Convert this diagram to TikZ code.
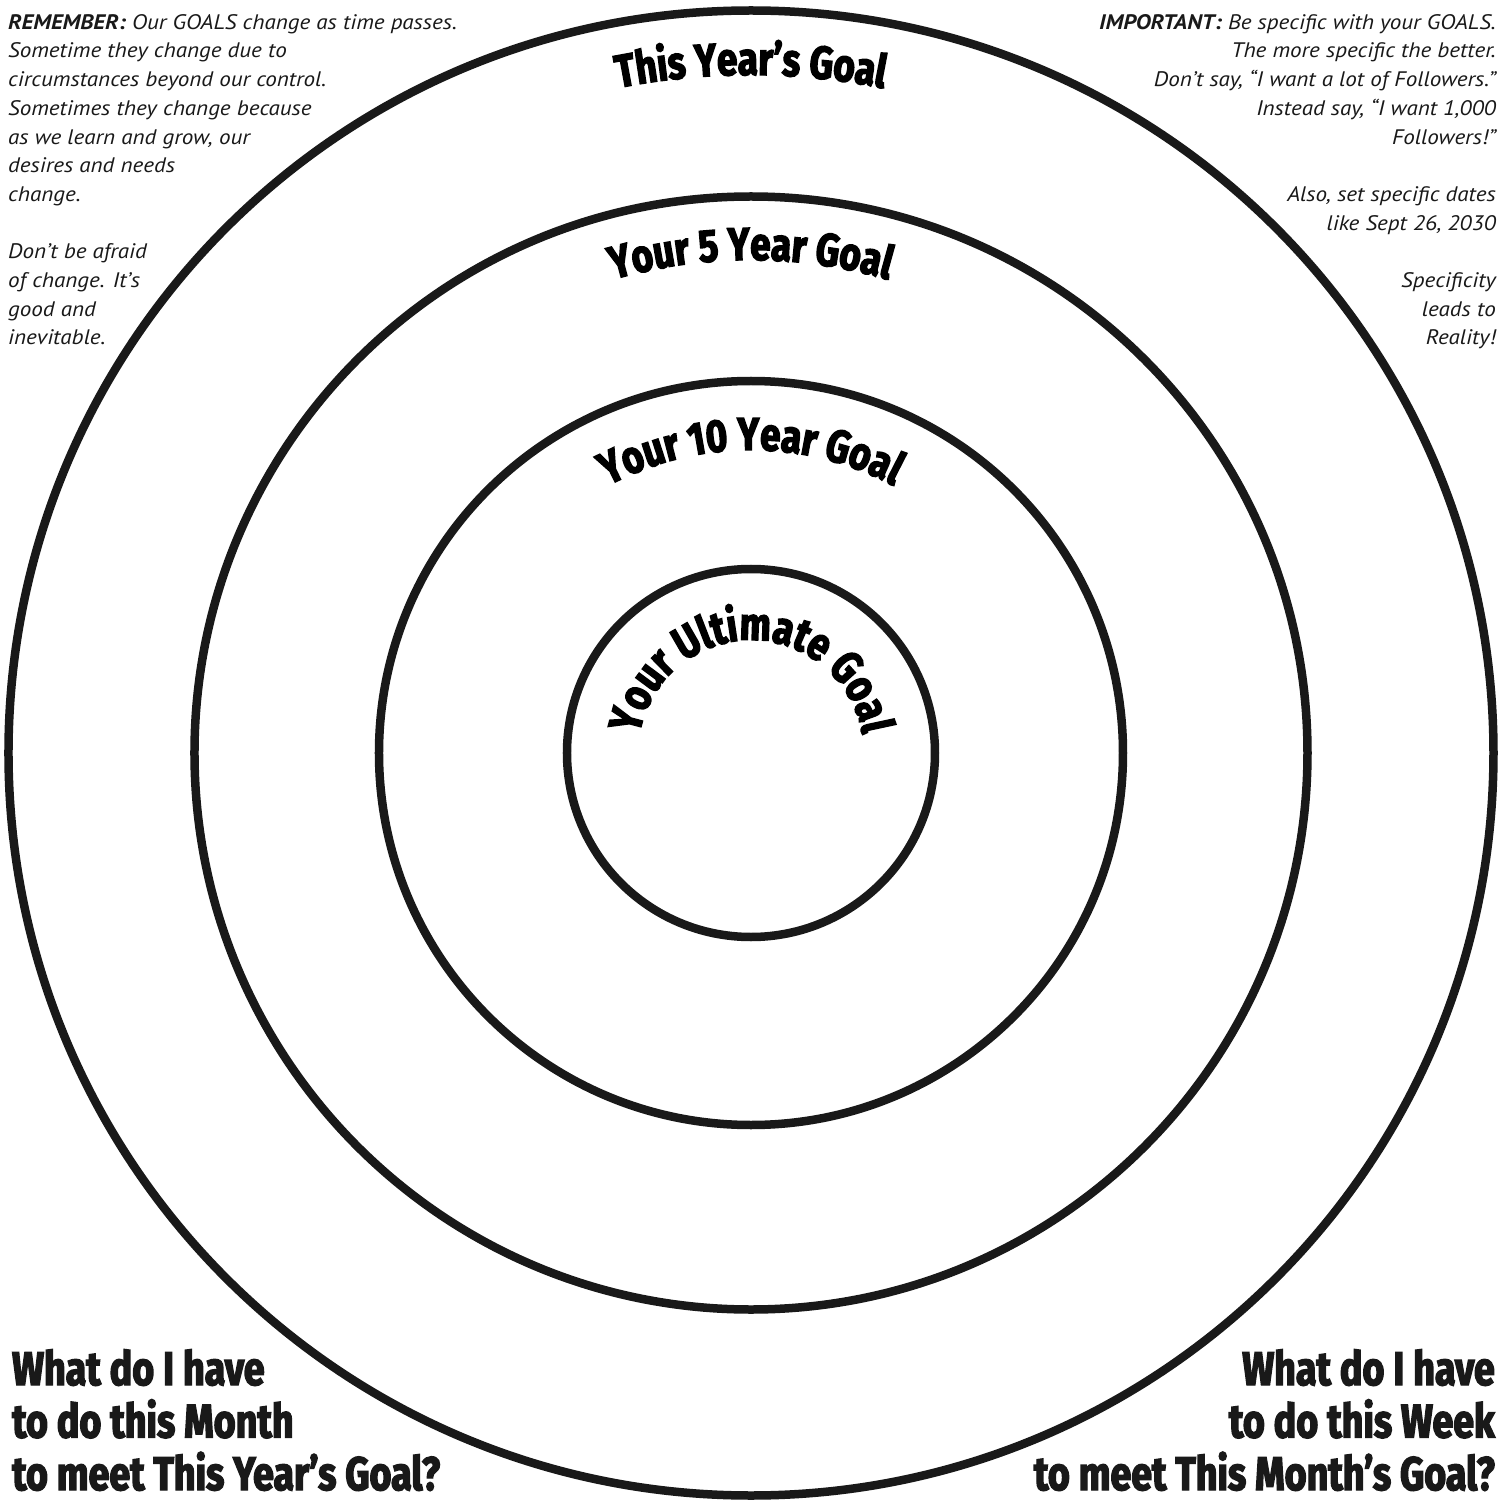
\documentclass[tikz,border=0pt]{standalone}
\usepackage{fontspec}
\usetikzlibrary{decorations.text}
\newfontfamily\notefont{PT Sans}[FakeStretch=1.1]
\newfontfamily\impactbase{Fira Sans}[FakeStretch=0.8, BoldFeatures={FakeBold=3}]
\newcommand{\impact}{\impactbase\bfseries}
\tikzset{
  ring/.style={draw=black!90, line width=8.5pt},
  note/.style={inner sep=0pt, font=\notefont\itshape\fontsize{21}{28.7}\selectfont, text=black!90},
  bigq/.style={inner sep=0pt, font=\impact\fontsize{47}{52.5}\selectfont, text=black!90},
}
\newcommand{\arcfont}{\impact\fontsize{46}{50}\selectfont}
\begin{document}
\begin{tikzpicture}[x=1pt,y=1pt]
\useasboundingbox (-751,-752) rectangle (753,753);
\fill[white] (-751,-752) rectangle (753,753);
\coordinate (c) at (0,0);
\draw[ring] (c) circle[radius=742.5];
\draw[ring] (c) circle[radius=556.5];
\draw[ring] (c) circle[radius=372];
\draw[ring] (c) circle[radius=184];
% arc titles
\path[decorate,decoration={text along path,text align=center,
  text={|\arcfont|This Year’s Goal}}]
  (c) ++(170:678) arc[start angle=170,end angle=10,radius=678];
\path[decorate,decoration={text along path,text align=center,
  text={|\arcfont|Your 5 Year Goal}}]
  (c) ++(170:493) arc[start angle=170,end angle=10,radius=493];
\path[decorate,decoration={text along path,text align=center,
  text={|\arcfont|Your 10 Year Goal}}]
  (c) ++(170:303) arc[start angle=170,end angle=10,radius=303];
\path[decorate,decoration={text along path,text align=center,
  text={|\arcfont|Your Ultimate Goal}}]
  (c) ++(200:113) arc[start angle=200,end angle=-20,radius=113];
% notes (base anchor = last line)
\node[note, anchor=base west, align=left] (remember) at (-743,408)
  {{\bfseries REMEMBER:} Our GOALS change as time passes.\\
   Sometime they change due to\\
   circumstances beyond our control.\\
   Sometimes they change because\\
   as we learn and grow, our\\
   desires and needs\\
   change.\\[28.7pt]
   Don’t be afraid\\
   of change. It’s\\
   good and\\
   inevitable.};
\node[note, anchor=base east, align=right] (important) at (745,408)
  {{\bfseries IMPORTANT:} Be specific with your GOALS.\\
   The more specific the better.\\
   Don’t say, “I want a lot of Followers.”\\
   Instead say, “I want 1,000\\
   Followers!”\\[28.7pt]
   Also, set specific dates\\
   like Sept 26, 2030\\[28.7pt]
   Specificity\\
   leads to\\
   Reality!};
% bottom questions
\node[bigq, anchor=base west, align=left] (month) at (-739,-737)
  {What do I have\\ to do this Month\\ to meet This Year’s Goal?};
\node[bigq, anchor=base east, align=right] (week) at (744,-737)
  {What do I have\\ to do this Week\\ to meet This Month’s Goal?};
\end{tikzpicture}
\end{document}
